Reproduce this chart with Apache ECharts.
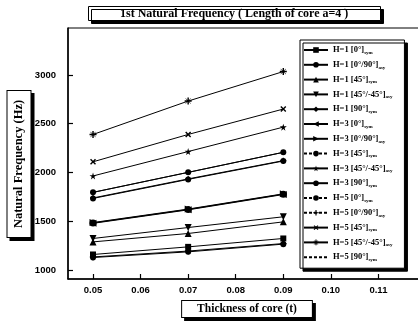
<!DOCTYPE html>
<html>
<head>
<meta charset="utf-8">
<script src="https://cdn.jsdelivr.net/npm/echarts@6/dist/echarts.min.js"></script>
<style>
html, body {margin: 0; padding: 0; background: #fff;}
#container {width: 418px; height: 325px;}
</style>
</head>
<body>
<div id="container"></div>
<script>
// thickness of core (x axis)
var thickness = [0.05, 0.07, 0.09];

// natural frequency (Hz)
var h1_0     = [1161, 1239, 1325];
var h1_0_90  = [1130, 1188, 1267];
var h1_45    = [1290, 1376, 1495];
var h1_45_45 = [1325, 1437, 1547];
var h1_90    = [1136, 1196, 1273];
var h3_0     = [1480, 1618, 1775];
var h3_0_90  = [1488, 1626, 1782];
var h3_45    = [1735, 1930, 2118];
var h3_45_45 = [1965, 2215, 2465];
var h3_90    = [1484, 1622, 1779];
var h5_0     = [1797, 2002, 2207];
var h5_0_90  = [1740, 1935, 2122];
var h5_45    = [2110, 2390, 2650];
var h5_45_45 = [2390, 2732, 3034];
var h5_90    = [1797, 2002, 2207];

var yTicks = [1000, 1500, 2000, 2500, 3000];
var xTicks = [0.05, 0.06, 0.07, 0.08, 0.09, 0.10, 0.11];

var star = 'path://M50,0L61,35L98,35L68,57L79,91L50,70L21,91L32,57L2,35L39,35Z';
var plus = 'path://M4,0H6V4H10V6H6V10H4V6H0V4H4Z';
var aster = 'path://M4,0H6V3.5L8.5,1L9,1.5L6.5,4H10V6H6.5L9,8.5L8.5,9L6,6.5V10H4V6.5L1.5,9L1,8.5L3.5,6H0V4H3.5L1,1.5L1.5,1L4,3.5Z';

function pts(vals) {
    return thickness.map(function (t, i) { return [t, vals[i]]; });
}

function line(name, vals, symbol, rotate, size) {
    return {
        name: name,
        type: 'line',
        data: pts(vals),
        symbol: symbol,
        symbolSize: size || 6,
        symbolRotate: rotate || 0,
        lineStyle: {color: '#000', width: 1},
        itemStyle: {color: '#000', borderWidth: 0},
        animation: false
    };
}

var series = [
    line('H=1 [0°] sym', h1_0, 'rect'),
    line('H=1 [0°/90°] asy', h1_0_90, 'circle'),
    line('H=1 [45°] sym', h1_45, 'triangle', 0, 7),
    line('H=1 [45°/-45°] asy', h1_45_45, 'triangle', 180, 7),
    line('H=1 [90°] sym', h1_90, 'diamond', 0, 7),
    line('H=3 [0°] sym', h3_0, 'triangle', 90, 7),
    line('H=3 [0°/90°] asy', h3_0_90, 'triangle', -90, 7),
    line('H=3 [45°] sym', h3_45, 'circle'),
    line('H=3 [45°/-45°] asy', h3_45_45, star, 0, 7),
    line('H=3 [90°] sym', h3_90, 'circle', 0, 7),
    line('H=5 [0°] sym', h5_0, 'circle'),
    line('H=5 [0°/90°] asy', h5_0_90, plus, 0, 6),
    line('H=5 [45°] sym', h5_45, plus, 45, 7),
    line('H=5 [45°/-45°] asy', h5_45_45, aster, 0, 7),
    line('H=5 [90°] sym', h5_90, 'none')
];

// legend entries drawn with a dashed line, and the one without a marker
var dashedKeys = ['H=3 [45°] sym', 'H=5 [0°] sym', 'H=5 [0°/90°] asy', 'H=5 [90°] sym'];
var noMarkKeys = ['H=5 [90°] sym'];

var serif = 'Liberation Serif';
var boxShadow = {shadowColor: '#000', shadowBlur: 0, shadowOffsetX: 3, shadowOffsetY: 3};

var myChart = echarts.init(document.getElementById('container'));

var option = {
    backgroundColor: '#fff',
    animation: false,
    title: Object.assign({
        text: '1st Natural Frequency ( Length of core a=4 )',
        left: 88,
        top: 6,
        padding: [2, 32, 1, 32],
        backgroundColor: '#fff',
        borderColor: '#000',
        borderWidth: 1,
        textStyle: {fontFamily: serif, fontWeight: 'bold', fontSize: 12, color: '#000'}
    }, boxShadow),
    legend: Object.assign({
        orient: 'vertical',
        left: 300,
        top: 40,
        padding: [5, 12, 6, 3],
        itemWidth: 24,
        itemHeight: 7,
        itemGap: 4.8,
        backgroundColor: '#fff',
        borderColor: '#000',
        borderWidth: 1,
        textStyle: {
            fontFamily: serif, fontWeight: 'bold', fontSize: 8.5, color: '#000', lineHeight: 10,
            rich: {
                s: {fontFamily: serif, fontWeight: 'bold', fontSize: 5, color: '#000', padding: [5, 0, 0, 0], lineHeight: 10}
            }
        },
        formatter: function (name) {
            return name.replace(/ (sym|asy)$/, '{s|$1}');
        },
        data: series.map(function (s) {
            var item = {name: s.name};
            if (dashedKeys.indexOf(s.name) >= 0) {
                item.lineStyle = {type: [3, 2]};
            }
            if (noMarkKeys.indexOf(s.name) >= 0) {
                item.itemStyle = {color: 'rgba(0,0,0,0)', borderWidth: 0};
            }
            return item;
        })
    }, boxShadow),
    // y axis title box, placed where the picture has it
    graphic: [{
        type: 'text',
        x: 19,
        y: 164,
        rotation: Math.PI / 2,
        z: 10,
        style: Object.assign({
            text: 'Natural Frequency (Hz)',
            align: 'center',
            verticalAlign: 'middle',
            fontFamily: serif, fontWeight: 'bold', fontSize: 12.5, fill: '#000',
            backgroundColor: '#fff', borderColor: '#000', borderWidth: 1, padding: [5, 9, 5, 9]
        }, boxShadow)
    }],
    grid: {
        left: 68,
        top: 28,
        right: -8,
        bottom: 46,
        containLabel: false,
        outerBoundsMode: 'none',
        show: true,
        borderColor: '#000',
        borderWidth: 1
    },
    xAxis: {
        type: 'value',
        min: 0.04474,
        max: 0.12,
        splitNumber: 7,
        name: 'Thickness of core (t)',
        nameLocation: 'middle',
        nameGap: 20,
        nameTextStyle: Object.assign({
            fontFamily: serif, fontWeight: 'bold', fontSize: 11.5, color: '#000',
            backgroundColor: '#fff', borderColor: '#000', borderWidth: 1, padding: [2, 15, 2, 15]
        }, boxShadow),
        axisLine: {lineStyle: {color: '#000', width: 1.5}},
        axisTick: {inside: true, length: 5, lineStyle: {color: '#000', width: 1.2}},
        axisLabel: {
            color: '#000', fontFamily: 'Liberation Sans', fontWeight: 'bold', fontSize: 9.5, margin: 6,
            showMinLabel: false, showMaxLabel: false,
            formatter: function (v) {
                var r = Math.round(v * 100) / 100;
                return xTicks.indexOf(r) >= 0 && Math.abs(v - r) < 1e-6 ? r.toFixed(2) : '';
            }
        },
        splitLine: {show: false}
    },
    yAxis: {
        type: 'value',
        min: 910,
        max: 3480,
        splitNumber: 5,
        axisLine: {lineStyle: {color: '#000', width: 1.5}},
        axisTick: {inside: true, length: 5, lineStyle: {color: '#000', width: 1.2}},
        axisLabel: {
            color: '#000', fontFamily: 'Liberation Sans', fontWeight: 'bold', fontSize: 9.5, margin: 12,
            showMinLabel: false, showMaxLabel: false,
            formatter: function (v) {
                return yTicks.indexOf(v) >= 0 ? String(v) : '';
            }
        },
        splitLine: {show: false}
    },
    series: series
};

myChart.setOption(option);
</script>
</body>
</html>
